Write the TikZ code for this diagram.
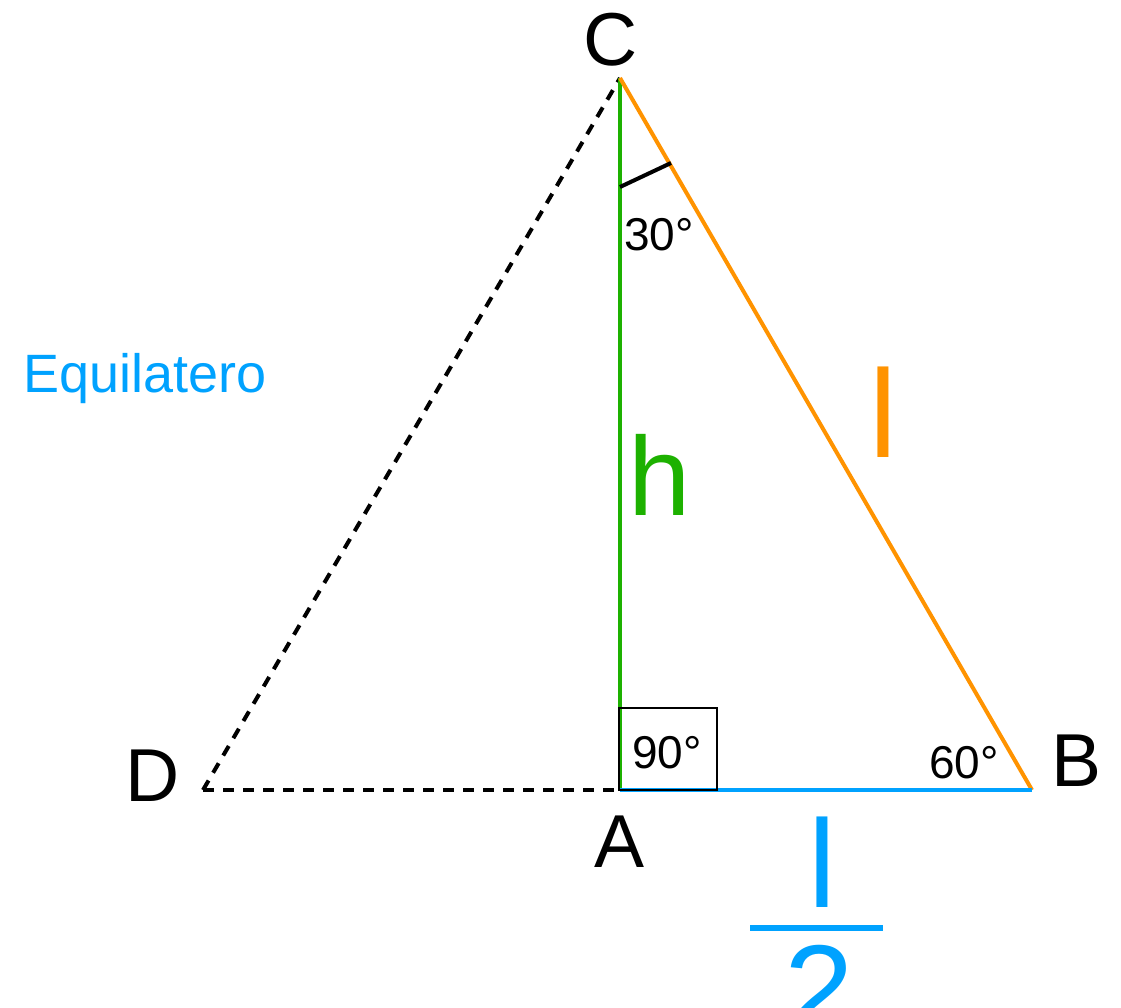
\documentclass[tikz,border=0pt]{standalone}
\usepackage{fontspec}
\setmainfont{Liberation Sans}
\usepackage{tikz}
\usetikzlibrary{positioning}
\definecolor{eqblue}{HTML}{00A2FF}
\definecolor{hgreen}{HTML}{1DB100}
\definecolor{lorange}{HTML}{FF9300}

\begin{document}
\begin{tikzpicture}[
  x=1pt,y=-1pt,
  side/.style={line width=4pt},
  hidden/.style={line width=4pt,dash pattern=on 11pt off 9pt},
  vertex/.style={inner sep=0pt,font=\fontsize{75}{75}\selectfont},
  anglelabel/.style={inner sep=0pt,font=\fontsize{46}{46}\selectfont},
  biglabel/.style={inner sep=0pt,font=\fontsize{125}{125}\selectfont}
]
\useasboundingbox (0,0) rectangle (1121,1008);
% triangle corners
\coordinate (C) at (620,78);
\coordinate (A) at (620,790);
\coordinate (B) at (1032,790);
\coordinate (D) at (203,790);
\coordinate (mark1) at (620,187);
\coordinate (mark2) at (671,163);
\coordinate (box1) at (619,708);
\coordinate (box2) at (717,790);
\coordinate (bar1) at (750,928);
\coordinate (bar2) at (883,928);
% sides
\draw[hidden,line cap=butt] (D) -- (A);
\draw[hidden,line cap=butt] (D) -- (C);
\draw[side,draw=hgreen] (C) -- (A);
\draw[side,draw=lorange] (C) -- (B);
\draw[side,draw=eqblue] (A) -- (B);
\draw[line width=2pt] (box1) rectangle (box2);
\draw[line width=4pt] (mark1) -- (mark2);
% labels
\node[vertex] (lblC) at (611,40) {C};
\node[vertex] (lblD) at (153,776) {D};
\node[vertex] (lblA) at (620,842) {A};
\node[vertex] (lblB) at (1076,761) {B};
\node[anglelabel] (a30) at (659,235) {30°};
\node[anglelabel] (a90) at (667,753) {90°};
\node[anglelabel] (a60) at (964,763) {60°};
\node[inner sep=0pt,anchor=base,text=eqblue,font=\fontsize{54}{54}\selectfont] (equi) at (145,392) {Equilatero};
\node[inner sep=0pt,text=hgreen,font=\fontsize{112}{112}\selectfont] (h) at (660,475) {h};
\node[biglabel,text=lorange] (l) at (883,412) {l};
\node[biglabel,text=eqblue] (num) at (822,862) {l};
\node[biglabel,text=eqblue,anchor=base] (den) at (819,1032) {2};
\draw[eqblue,line width=6pt] (bar1) -- (bar2);
\end{tikzpicture}
\end{document}
